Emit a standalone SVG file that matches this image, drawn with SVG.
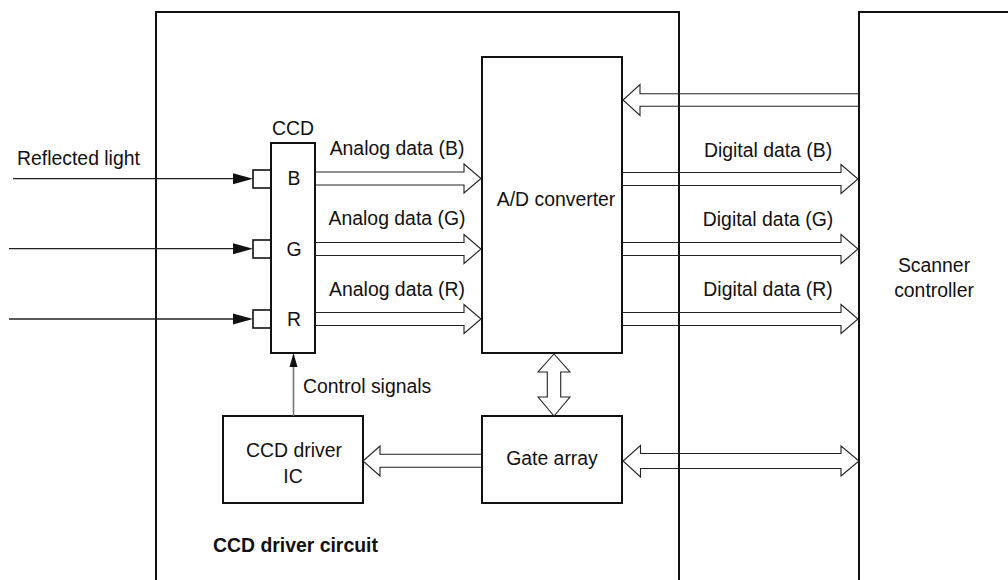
<svg xmlns="http://www.w3.org/2000/svg" width="1008" height="580" viewBox="0 0 1008 580">
<style>
text{font-family:"Liberation Sans",Arial,Helvetica,sans-serif;font-size:19.4px;fill:#111}
.b{font-weight:bold}
.box{fill:none;stroke:#111;stroke-width:2}
.hollow{fill:none;stroke:#222;stroke-width:1.1;stroke-linejoin:miter}
.thin{stroke:#222;stroke-width:1.3;fill:none}
.head{fill:#111;stroke:none}
</style>
<rect width="1008" height="580" fill="#fff"/>
<g id="ccd-driver-circuit">
<rect class="box" x="156" y="12" width="523" height="620"/>
<text class="b" x="213" y="552">CCD driver circuit</text>
</g>
<g id="scanner-controller">
<rect class="box" x="859" y="12" width="220" height="620"/>
<text x="934" y="272" text-anchor="middle">Scanner</text>
<text x="934" y="297" text-anchor="middle">controller</text>
</g>
<g id="ccd">
<rect class="box" x="271" y="143" width="44" height="210"/>
<rect class="box" x="253" y="170" width="18" height="18" style="stroke-width:1.6"/>
<rect class="box" x="253" y="240" width="18" height="18" style="stroke-width:1.6"/>
<rect class="box" x="253" y="310" width="18" height="18" style="stroke-width:1.6"/>
<text x="293" y="135" text-anchor="middle">CCD</text>
<text x="294" y="185" text-anchor="middle">B</text>
<text x="294" y="256" text-anchor="middle">G</text>
<text x="294" y="326" text-anchor="middle">R</text>
</g>
<g id="ad-converter">
<rect class="box" x="482" y="57" width="140" height="296"/>
<text x="556" y="206" text-anchor="middle">A/D converter</text>
</g>
<g id="gate-array">
<rect class="box" x="482" y="416" width="140" height="87"/>
<text x="552" y="465" text-anchor="middle">Gate array</text>
</g>
<g id="ccd-driver-ic">
<rect class="box" x="223" y="416" width="140" height="87"/>
<text x="294" y="457" text-anchor="middle">CCD driver</text>
<text x="293" y="483" text-anchor="middle">IC</text>
</g>
<g id="connectors">
<line class="thin" x1="13" y1="178.7" x2="236" y2="178.7"/>
<polygon class="head" points="253,178.7 233,173.2 233,184.2"/>
<line class="thin" x1="9" y1="248.7" x2="236" y2="248.7"/>
<polygon class="head" points="253,248.7 233,243.2 233,254.2"/>
<line class="thin" x1="9" y1="319" x2="236" y2="319"/>
<polygon class="head" points="253,319 233,313.5 233,324.5"/>
<text x="17" y="165">Reflected light</text>
<path class="hollow" d="M315,172 H464 V164 L481,178.5 L464,193 V185 H315"/>
<path class="hollow" d="M315,242.5 H464 V234.5 L481,249 L464,263.5 V255.5 H315"/>
<path class="hollow" d="M315,312.5 H464 V304.5 L481,319 L464,333.5 V325.5 H315"/>
<text x="397" y="155" text-anchor="middle">Analog data (B)</text>
<text x="397" y="225" text-anchor="middle">Analog data (G)</text>
<text x="397" y="295.5" text-anchor="middle">Analog data (R)</text>
<path class="hollow" d="M622,172.5 H841 V164.5 L858,179 L841,193.5 V185.5 H622"/>
<path class="hollow" d="M622,242.5 H841 V234.5 L858,249 L841,263.5 V255.5 H622"/>
<path class="hollow" d="M622,312.5 H841 V304.5 L858,319 L841,333.5 V325.5 H622"/>
<text x="768" y="156.5" text-anchor="middle">Digital data (B)</text>
<text x="768" y="225.5" text-anchor="middle">Digital data (G)</text>
<text x="768" y="296" text-anchor="middle">Digital data (R)</text>
<path class="hollow" d="M859,93.7 H640 V84.5 L623,100 L640,115.5 V106.3 H859"/>
<path class="hollow" d="M554,354 L570,372 H560.7 V397 H570 L554,416 L538,397 H547.3 V372 H538 Z"/>
<path class="hollow" d="M481,454.3 H380 V446 L363,461 L380,476 V467.3 H481"/>
<path class="hollow" d="M640.5,453.5 H841 V446 L859,461 L841,476 V468.5 H640.5 V477 L623,461 L640.5,445.5 Z"/>
<line x1="293.5" y1="416" x2="293.5" y2="365" stroke="#777" stroke-width="1.6"/>
<polygon class="head" points="293.5,353 289.5,367 297.5,367"/>
<text x="303" y="393">Control signals</text>
</g>
</svg>
